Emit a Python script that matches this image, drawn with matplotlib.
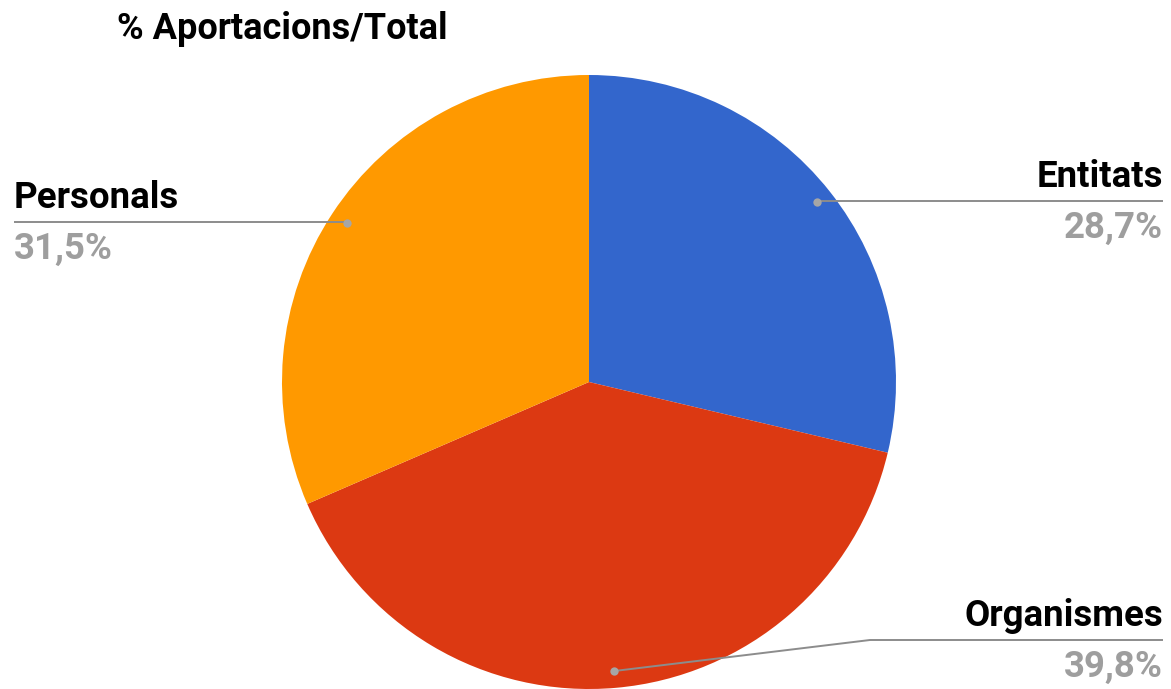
import matplotlib.pyplot as plt
import numpy as np

labels = ['Entitats', 'Organismes', 'Personals']
values = [28.7, 39.8, 31.5]
colors = ['#3366cc', '#dc3912', '#ff9900']
title = '% Aportacions/Total'

W, H = 1171, 689
plt.rcParams['font.family'] = ['Roboto', 'DejaVu Sans']

fig = plt.figure(figsize=(W / 100, H / 100), dpi=100)
ax = fig.add_axes([0, 0, 1, 1])

cx, cy, r = 589, H - 382, 307
ax.pie(values, colors=colors, startangle=90, counterclock=False,
       center=(cx, cy), radius=r, frame=True,
       wedgeprops=dict(linewidth=0))
ax.set_xlim(0, W)
ax.set_ylim(0, H)
ax.set_aspect('equal')
ax.axis('off')

# mid angle of each slice -> dot on the pie
total = sum(values)
cum = np.cumsum([0] + values[:-1])
mids = [90 - (c + v / 2) / total * 360 for c, v in zip(cum, values)]
dots = [(cx + 0.945 * r * np.cos(np.radians(a)), cy + 0.945 * r * np.sin(np.radians(a))) for a in mids]

lc = '#8c8c8c'
fs = 26.4
# label layout: (text x, ha, line y, elbow x or None)
layout = {
    'Entitats': (1163, 'right', H - 201, None),
    'Organismes': (1163, 'right', H - 640, 870),
    'Personals': (14, 'left', H - 222, None),
}
for lab, v, (dx, dy) in zip(labels, values, dots):
    tx, ha, ly, ex = layout[lab]
    if ex is None:
        ax.plot([dx, tx], [ly, ly], color=lc, lw=1.4, solid_capstyle='butt')
    else:
        ax.plot([dx, ex, tx], [dy, ly, ly], color=lc, lw=1.4, solid_capstyle='butt')
    ax.plot(dx, dy, 'o', color='#a6a6a6', ms=6, mec='none')
    ax.text(tx, ly + 14, lab, ha=ha, va='baseline', fontsize=fs,
            fontweight='bold', color='#000000')
    ax.text(tx, ly - 37, f'{v:.1f}%'.replace('.', ','), ha=ha, va='baseline',
            fontsize=fs, fontweight='bold', color='#9e9e9e')

ax.text(117, H - 39, title, ha='left', va='baseline', fontsize=26,
        fontweight='bold', color='#000000')

fig.savefig('out.png', dpi=100, facecolor='white')
